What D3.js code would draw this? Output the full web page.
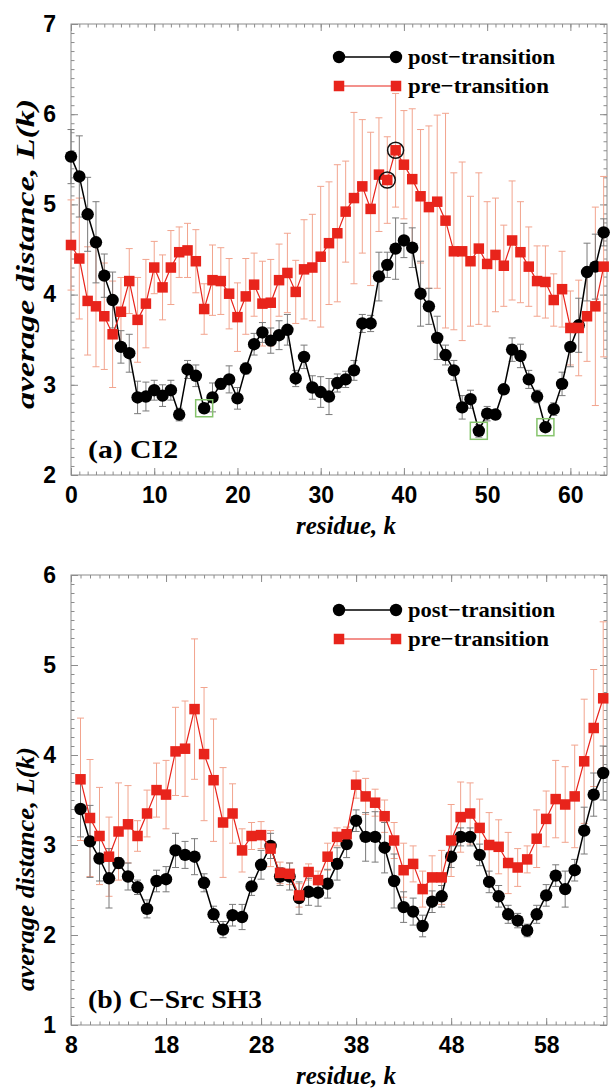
<!DOCTYPE html>
<html>
<head>
<meta charset="utf-8">
<title>Average distance L(k) - CI2 and C-Src SH3</title>
<script src="https://d3js.org/d3.v7.min.js"></script>
<style>
    body {
        margin: 0;
        background: #fff;
    }
    svg { display: block; }
    .tick text {
        font-family: "Liberation Sans", Arial, sans-serif;
        font-weight: bold;
        font-size: 23px;
        fill: #000;
    }
    .serif {
        font-family: "Liberation Serif", "Times New Roman", Times, serif;
        font-weight: bold;
    }
</style>
</head>
<body>
<div id="chart"></div>
<script>
    // ---- (a) CI2, residues 0..64 ----
    const ci2Residues = d3.range(0, 65);
    const ci2Post = [5.53, 5.31, 4.89, 4.58, 4.21, 3.94, 3.42, 3.35, 2.86, 2.87,
                     2.94, 2.88, 2.94, 2.67, 3.17, 3.10, 2.74, 2.86, 3.01, 3.06,
                     2.85, 3.18, 3.45, 3.58, 3.49, 3.55, 3.61, 3.07, 3.31, 2.97,
                     2.92, 2.87, 3.02, 3.06, 3.16, 3.68, 3.68, 4.20, 4.33, 4.51,
                     4.60, 4.52, 4.01, 3.87, 3.52, 3.33, 3.16, 2.75, 2.84, 2.49,
                     2.68, 2.67, 2.95, 3.39, 3.32, 3.06, 2.87, 2.53, 2.73, 3.01,
                     3.42, 3.66, 4.25, 4.31, 4.69];
    const ci2PostErr = [0.30, 0.45, 0.41, 0.45, 0.24, 0.31, 0.18, 0.21, 0.18, 0.16,
                        0.11, 0.12, 0.11, 0.07, 0.10, 0.12, 0.05, 0.16, 0.06, 0.15,
                        0.12, 0.06, 0.12, 0.11, 0.14, 0.16, 0.17, 0.09, 0.13, 0.13,
                        0.17, 0.20, 0.10, 0.09, 0.11, 0.10, 0.09, 0.27, 0.14, 0.34,
                        0.19, 0.22, 0.36, 0.20, 0.24, 0.11, 0.11, 0.13, 0.10, 0.07,
                        0.08, 0.05, 0.05, 0.13, 0.13, 0.10, 0.07, 0.05, 0.07, 0.13,
                        0.22, 0.30, 0.32, 0.36, 0.15];
    const ci2Pre = [4.55, 4.40, 3.93, 3.87, 3.76, 3.56, 3.81, 4.15, 3.72, 3.90,
                    4.30, 4.08, 4.30, 4.47, 4.49, 4.37, 3.84, 4.16, 4.15, 4.01,
                    3.75, 3.98, 4.11, 3.90, 3.91, 4.16, 4.24, 4.03, 4.28, 4.30,
                    4.42, 4.57, 4.68, 4.92, 5.07, 5.20, 4.95, 5.33, 5.27, 5.60,
                    5.44, 5.28, 5.09, 4.97, 5.03, 4.82, 4.48, 4.48, 4.37, 4.51,
                    4.34, 4.44, 4.32, 4.60, 4.47, 4.31, 4.15, 4.14, 3.94, 4.06,
                    3.63, 3.63, 3.76, 3.87, 4.31];
    const ci2PreErr = [0.50, 0.67, 0.60, 0.67, 0.59, 0.59, 0.38, 0.36, 0.47, 0.49,
                       0.29, 0.36, 0.41, 0.28, 0.30, 0.35, 0.28, 0.39, 0.37, 0.39,
                       0.38, 0.42, 0.35, 0.47, 0.48, 0.40, 0.44, 0.35, 0.55, 0.59,
                       0.78, 0.68, 0.76, 0.56, 0.95, 0.74, 0.85, 0.63, 0.48, 0.63,
                       0.60, 0.78, 0.74, 0.90, 0.96, 1.19, 0.87, 0.99, 0.72, 0.84,
                       0.69, 0.63, 0.45, 0.66, 0.56, 0.44, 0.39, 0.40, 0.29, 0.42,
                       0.41, 0.53, 0.50, 1.10, 1.00];
    // highlighted residues
    const ci2CircledPre = [38, 39];
    const ci2BoxedPost = [16, 49, 57];

    // ---- (b) C-Src SH3, residues 9..64 ----
    const sh3Residues = d3.range(9, 65);
    const sh3Post = [3.40, 3.04, 2.85, 2.63, 2.80, 2.65, 2.53, 2.29, 2.60, 2.62,
                     2.94, 2.89, 2.87, 2.58, 2.23, 2.06, 2.22, 2.20, 2.54, 2.78,
                     2.99, 2.65, 2.65, 2.41, 2.48, 2.47, 2.57, 2.79, 3.01, 3.27,
                     3.09, 3.09, 2.97, 2.60, 2.31, 2.26, 2.10, 2.37, 2.43, 2.87,
                     3.09, 3.09, 2.89, 2.59, 2.43, 2.23, 2.16, 2.05, 2.23, 2.44,
                     2.66, 2.51, 2.72, 3.16, 3.56, 3.80];
    const sh3PostErr = [0.31, 0.40, 0.25, 0.33, 0.06, 0.15, 0.08, 0.10, 0.12, 0.14,
                        0.19, 0.15, 0.20, 0.10, 0.09, 0.09, 0.12, 0.14, 0.10, 0.16,
                        0.14, 0.10, 0.15, 0.18, 0.15, 0.15, 0.16, 0.18, 0.15, 0.12,
                        0.27, 0.28, 0.28, 0.30, 0.17, 0.15, 0.12, 0.12, 0.12, 0.12,
                        0.10, 0.10, 0.12, 0.12, 0.12, 0.10, 0.08, 0.07, 0.10, 0.12,
                        0.12, 0.20, 0.12, 0.26, 0.24, 0.30];
    const sh3Pre = [3.73, 3.30, 3.10, 2.87, 3.15, 3.23, 3.10, 3.35, 3.61, 3.56,
                    4.04, 4.07, 4.51, 4.01, 3.72, 3.25, 3.35, 2.94, 3.10, 3.11,
                    2.96, 2.69, 2.68, 2.44, 2.70, 2.61, 2.87, 3.09, 3.12, 3.67,
                    3.54, 3.47, 3.32, 3.05, 2.72, 2.79, 2.51, 2.64, 2.64, 3.05,
                    3.31, 3.35, 3.19, 3.00, 2.98, 2.80, 2.75, 2.84, 3.07, 3.29,
                    3.51, 3.45, 3.54, 3.93, 4.30, 4.63];
    const sh3PreErr = [0.68, 0.65, 0.54, 0.44, 0.54, 0.43, 0.17, 0.26, 0.30, 0.38,
                       0.49, 0.53, 0.78, 0.74, 0.68, 0.61, 0.33, 0.24, 0.15, 0.15,
                       0.20, 0.12, 0.12, 0.13, 0.09, 0.10, 0.15, 0.10, 0.08, 0.15,
                       0.20, 0.15, 0.18, 0.20, 0.30, 0.20, 0.20, 0.24, 0.30, 0.40,
                       0.39, 0.34, 0.32, 0.36, 0.30, 0.34, 0.21, 0.15, 0.32, 0.31,
                       0.43, 0.42, 0.57, 0.69, 0.65, 0.85];

    const ci2XTicks = [0, 10, 20, 30, 40, 50, 60];
    const ci2YTicks = [2, 3, 4, 5, 6, 7];
    const sh3XTicks = [8, 18, 28, 38, 48, 58];
    const sh3YTicks = [1, 2, 3, 4, 5, 6];

    const seriesNames = ['post\u2212transition', 'pre\u2212transition'];

    const W = 613, H = 1092;
    const left = 71, right = 607;
    const BLACK = '#000', RED = '#e8241b', RED_BAR = '#f2a48e', GREY_BAR = '#7a7a7a', FRAME = '#8c8c8c';

    const svg = d3.select('#chart').append('svg')
        .attr('width', W)
        .attr('height', H);

    function drawPanel(p) {
        const x = d3.scaleLinear().domain(p.xDomain).range([left, right]);
        const y = d3.scaleLinear().domain(p.yDomain).range([p.bottom, p.top]);
        const g = svg.append('g');

        // inward ticks on all four sides: minor every residue / 0.1, major at labels
        const xMinor = d3.range(Math.ceil(p.xDomain[0]), Math.floor(p.xDomain[1]) + 1);
        const yMinor = d3.range(p.yDomain[0] * 10, p.yDomain[1] * 10 + 1).map(d => d / 10);
        const sides = [
            [d3.axisBottom, x, 0, p.bottom, true],
            [d3.axisTop, x, 0, p.top, false],
            [d3.axisLeft, y, left, 0, true],
            [d3.axisRight, y, right, 0, false]
        ];
        sides.forEach(([axisFn, scale, tx, ty, labels], i) => {
            const isX = i < 2;
            const gMinor = g.append('g').attr('transform', `translate(${tx},${ty})`)
                .call(axisFn(scale).tickValues(isX ? xMinor : yMinor)
                    .tickSizeInner(-3.5).tickSizeOuter(0).tickFormat(''));
            const gMajor = g.append('g').attr('transform', `translate(${tx},${ty})`)
                .call(axisFn(scale).tickValues(isX ? p.xTicks : p.yTicks)
                    .tickSizeInner(-7).tickSizeOuter(0)
                    .tickPadding(isX ? 12 : 15)
                    .tickFormat(labels ? d3.format('d') : ''));
            [gMinor, gMajor].forEach(a => {
                a.select('.domain').remove();
                a.selectAll('.tick line').attr('stroke', FRAME).attr('stroke-width', 1);
            });
        });

        g.append('rect')
            .attr('x', left).attr('y', p.top)
            .attr('width', right - left).attr('height', p.bottom - p.top)
            .attr('fill', 'none').attr('stroke', FRAME).attr('stroke-width', 1);

        const post = p.residues.map((k, i) => ({ k, v: p.post[i], e: p.postErr[i] }));
        const pre = p.residues.map((k, i) => ({ k, v: p.pre[i], e: p.preErr[i] }));

        // error bars
        function errorBars(data, color) {
            const eb = g.append('g').attr('stroke', color).attr('stroke-width', 1).attr('fill', 'none');
            eb.selectAll('path').data(data).enter().append('path')
                .attr('d', d => {
                    const cx = x(d.k), y0 = y(d.v - d.e), y1 = y(d.v + d.e);
                    return `M${cx},${y0}V${y1}M${cx - 3.5},${y0}H${cx + 3.5}M${cx - 3.5},${y1}H${cx + 3.5}`;
                });
        }
        errorBars(pre, RED_BAR);
        errorBars(post, GREY_BAR);

        const line = d3.line().x(d => x(d.k)).y(d => y(d.v));

        g.append('path').datum(post)
            .attr('d', line).attr('fill', 'none').attr('stroke', BLACK).attr('stroke-width', 1.5);
        g.append('g').selectAll('circle').data(post).enter().append('circle')
            .attr('cx', d => x(d.k)).attr('cy', d => y(d.v)).attr('r', p.r)
            .attr('fill', BLACK);

        g.append('path').datum(pre)
            .attr('d', line).attr('fill', 'none').attr('stroke', RED).attr('stroke-width', 1.2);
        g.append('g').selectAll('rect').data(pre).enter().append('rect')
            .attr('x', d => x(d.k) - p.s / 2).attr('y', d => y(d.v) - p.s / 2)
            .attr('width', p.s).attr('height', p.s)
            .attr('fill', RED);

        // highlights
        if (p.circled) {
            g.append('g').selectAll('circle').data(pre.filter(d => p.circled.includes(d.k))).enter()
                .append('circle')
                .attr('cx', d => x(d.k)).attr('cy', d => y(d.v)).attr('r', 8)
                .attr('fill', 'none').attr('stroke', '#111').attr('stroke-width', 1.5);
        }
        if (p.boxed) {
            g.append('g').selectAll('rect').data(post.filter(d => p.boxed.includes(d.k))).enter()
                .append('rect')
                .attr('x', d => x(d.k) - 8.5).attr('y', d => y(d.v) - 8.5)
                .attr('width', 17).attr('height', 17)
                .attr('fill', 'none').attr('stroke', '#86c46c').attr('stroke-width', 1.5);
        }

        // legend
        const lg = g.append('g');
        const legendWidths = [147, 141];
        [[BLACK, 'circle'], [RED, 'square']].forEach(([c, shape], i) => {
            const ly = p.legendY + i * 29;
            lg.append('line').attr('x1', 339).attr('x2', 396).attr('y1', ly).attr('y2', ly)
                .attr('stroke', c).attr('stroke-width', i === 0 ? 1.5 : 1.2);
            [339, 396].forEach(lx => {
                if (shape === 'circle') {
                    lg.append('circle').attr('cx', lx).attr('cy', ly).attr('r', p.r).attr('fill', c);
                } else {
                    lg.append('rect').attr('x', lx - p.s / 2).attr('y', ly - p.s / 2)
                        .attr('width', p.s).attr('height', p.s).attr('fill', c);
                }
            });
            lg.append('text').attr('class', 'serif')
                .attr('x', 408).attr('y', ly + 7)
                .attr('font-size', 22)
                .attr('textLength', legendWidths[i]).attr('lengthAdjust', 'spacingAndGlyphs')
                .text(seriesNames[i]);
        });

        // panel label
        g.append('text').attr('class', 'serif')
            .attr('x', 88).attr('y', p.bottom - 17)
            .attr('font-size', 25)
            .attr('textLength', p.labelWidth).attr('lengthAdjust', 'spacingAndGlyphs')
            .text(p.label);

        // axis titles
        g.append('text').attr('class', 'serif')
            .attr('x', 346).attr('y', p.bottom + 59)
            .attr('text-anchor', 'middle').attr('font-size', 25).attr('font-style', 'italic')
            .attr('textLength', 100).attr('lengthAdjust', 'spacingAndGlyphs')
            .text('residue, k');
        g.append('text').attr('class', 'serif')
            .attr('transform', `translate(34,${p.titleY}) rotate(-90)`)
            .attr('text-anchor', 'middle').attr('font-size', 26).attr('font-style', 'italic')
            .attr('textLength', p.titleLen).attr('lengthAdjust', 'spacingAndGlyphs')
            .text('average distance, L(k)');
    }

    drawPanel({
        residues: ci2Residues, post: ci2Post, postErr: ci2PostErr, pre: ci2Pre, preErr: ci2PreErr,
        xDomain: [0, 64.4], yDomain: [2, 7], xTicks: ci2XTicks, yTicks: ci2YTicks,
        top: 24, bottom: 475, legendY: 57, label: '(a) CI2', labelWidth: 90,
        titleY: 254, titleLen: 310,
        circled: ci2CircledPre, boxed: ci2BoxedPost, r: 6.2, s: 10.5
    });

    drawPanel({
        residues: sh3Residues, post: sh3Post, postErr: sh3PostErr, pre: sh3Pre, preErr: sh3PreErr,
        xDomain: [8, 64.4], yDomain: [1, 6], xTicks: sh3XTicks, yTicks: sh3YTicks,
        top: 575, bottom: 1025, legendY: 610, label: '(b) C\u2212Src SH3', labelWidth: 174,
        titleY: 869, titleLen: 244,
        r: 6.2, s: 10.5
    });
</script>
</body>
</html>
